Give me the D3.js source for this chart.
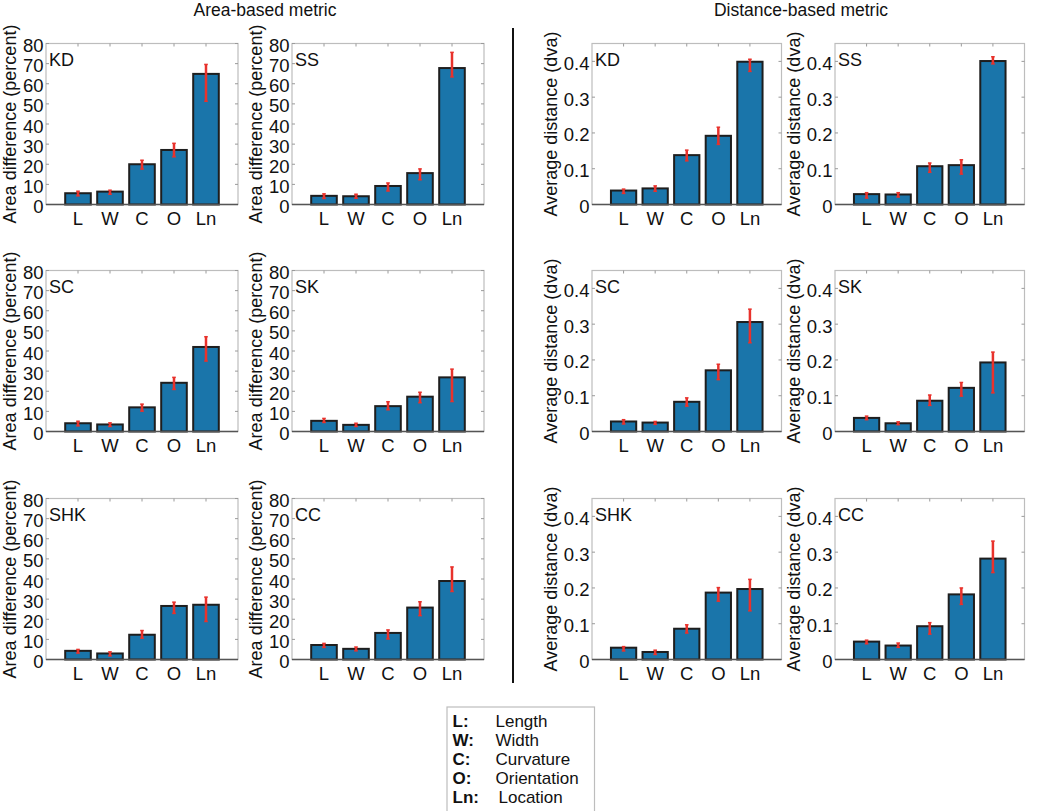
<!DOCTYPE html>
<html>
<head>
<meta charset="utf-8">
<script src="https://cdn.jsdelivr.net/npm/d3@7"></script>
<style>
  body { margin: 0; background: #fff; }
  svg { display: block; font-family: "Liberation Sans", Arial, Helvetica, sans-serif; }
</style>
</head>
<body>
<div id="chart"></div>
<script>
// Categories and methods
const categories = ['L', 'W', 'C', 'O', 'Ln'];
const methods = ['KD', 'SS', 'SC', 'SK', 'SHK', 'CC'];

// Area-based metric (percent): mean, lower and upper error bar ends
const areaMean = [
    [5.6, 6.4, 20.0, 27.1, 64.9],
    [4.3, 4.1, 9.2, 15.6, 67.8],
    [4.1, 3.5, 12.0, 24.2, 42.0],
    [5.3, 3.3, 12.6, 17.3, 26.9],
    [4.3, 3.0, 12.3, 26.6, 27.2],
    [7.2, 5.3, 13.2, 25.8, 39.0]
];
const areaLow = [
    [4.3, 5.1, 17.6, 23.7, 51.3],
    [3.0, 3.1, 6.7, 12.3, 63.4],
    [2.8, 2.5, 10.1, 20.9, 35.0],
    [4.5, 2.5, 10.8, 14.3, 14.9],
    [3.2, 1.8, 10.6, 22.9, 18.9],
    [6.0, 4.3, 10.2, 21.8, 33.8]
];
const areaHigh = [
    [6.6, 7.1, 22.0, 30.4, 69.6],
    [5.3, 5.1, 10.7, 17.7, 75.6],
    [5.1, 4.3, 13.6, 26.9, 47.1],
    [6.5, 4.1, 14.8, 19.5, 31.0],
    [5.0, 3.8, 14.4, 28.5, 31.0],
    [8.0, 6.2, 14.7, 28.7, 46.0]
];

// Distance-based metric (dva)
const distMean = [
    [0.039, 0.045, 0.138, 0.192, 0.399],
    [0.029, 0.028, 0.107, 0.110, 0.401],
    [0.028, 0.025, 0.083, 0.171, 0.306],
    [0.038, 0.023, 0.086, 0.122, 0.193],
    [0.033, 0.021, 0.086, 0.187, 0.197],
    [0.050, 0.039, 0.093, 0.182, 0.282]
];
const distLow = [
    [0.031, 0.037, 0.122, 0.168, 0.372],
    [0.018, 0.021, 0.090, 0.085, 0.393],
    [0.021, 0.020, 0.071, 0.145, 0.248],
    [0.033, 0.019, 0.073, 0.099, 0.108],
    [0.024, 0.014, 0.074, 0.163, 0.136],
    [0.044, 0.034, 0.071, 0.154, 0.243]
];
const distHigh = [
    [0.043, 0.052, 0.152, 0.216, 0.406],
    [0.033, 0.033, 0.116, 0.125, 0.413],
    [0.033, 0.028, 0.094, 0.188, 0.342],
    [0.043, 0.027, 0.102, 0.137, 0.222],
    [0.036, 0.026, 0.097, 0.201, 0.224],
    [0.054, 0.046, 0.103, 0.200, 0.331]
];

const areaTicks = [0, 10, 20, 30, 40, 50, 60, 70, 80];
const distTicks = [0, 0.1, 0.2, 0.3, 0.4];

const legendKeys = ['L:', 'W:', 'C:', 'O:', 'Ln:'];
const legendNames = ['Length', 'Width', 'Curvature', 'Orientation', 'Location'];

// Styling
const barColor = '#1a75aa';
const errColor = '#e8322c';

const width = 1050;
const height = 811;

const svg = d3.select('#chart')
    .append('svg')
    .attr('width', width)
    .attr('height', height);

// Panel grid
const rowTop = [43.5, 270.5, 498.5];
const panelH = 161;

function drawPanel(x0, y0, w, method, mean, low, high, yMax, ticks, yLabel, fmt) {
    const g = svg.append('g').attr('transform', `translate(${x0},${y0})`);

    const x = d3.scaleLinear().domain([0, 6]).range([0, w]);
    const y = d3.scaleLinear().domain([0, yMax]).range([panelH, 0]);

    // box (light gray)
    g.append('rect')
        .attr('width', w)
        .attr('height', panelH)
        .attr('fill', 'none')
        .attr('stroke', '#bdbdbd')
        .attr('stroke-width', 1.2);

    // inner ticks on left and right edges
    ticks.forEach(t => {
        g.append('line').attr('x1', 0).attr('x2', 3).attr('y1', y(t)).attr('y2', y(t))
            .attr('stroke', '#9a9a9a');
        g.append('line').attr('x1', w).attr('x2', w - 3).attr('y1', y(t)).attr('y2', y(t))
            .attr('stroke', '#9a9a9a');
    });
    // top ticks at bar centers
    categories.forEach((c, i) => {
        g.append('line').attr('x1', x(i + 1)).attr('x2', x(i + 1)).attr('y1', 0).attr('y2', 3)
            .attr('stroke', '#9a9a9a');
    });

    // bars
    g.selectAll('.bar')
        .data(mean)
        .enter()
        .append('rect')
        .attr('class', 'bar')
        .attr('x', (d, i) => x(i + 1 - 0.4))
        .attr('width', x(0.8) - x(0))
        .attr('y', d => y(d))
        .attr('height', d => y(0) - y(d))
        .attr('fill', barColor)
        .attr('stroke', '#1e1e1e')
        .attr('stroke-width', 2);

    // error bars
    const capW = 1.8;
    mean.forEach((d, i) => {
        const cx = x(i + 1);
        g.append('line')
            .attr('x1', cx).attr('x2', cx)
            .attr('y1', y(low[i])).attr('y2', y(high[i]))
            .attr('stroke', errColor).attr('stroke-width', 2.5);
        [low[i], high[i]].forEach(v => {
            g.append('line')
                .attr('x1', cx - capW).attr('x2', cx + capW)
                .attr('y1', y(v)).attr('y2', y(v))
                .attr('stroke', errColor).attr('stroke-width', 1.5);
        });
    });

    // bottom axis line (darker)
    g.append('line')
        .attr('x1', 0).attr('x2', w)
        .attr('y1', panelH).attr('y2', panelH)
        .attr('stroke', '#555')
        .attr('stroke-width', 1.6);

    // y tick labels
    g.selectAll('.ytick')
        .data(ticks)
        .enter()
        .append('text')
        .attr('x', -2.5)
        .attr('y', d => y(d) + 2)
        .attr('text-anchor', 'end')
        .attr('dominant-baseline', 'central')
        .style('font-size', '18.5px')
        .style('fill', '#111')
        .text(fmt);

    // x tick labels
    g.selectAll('.xtick')
        .data(categories)
        .enter()
        .append('text')
        .attr('x', (d, i) => x(i + 1))
        .attr('y', panelH + 13.5)
        .attr('text-anchor', 'middle')
        .attr('dominant-baseline', 'central')
        .style('font-size', '18.5px')
        .style('fill', '#111')
        .text(d => d);

    // y axis label
    g.append('text')
        .attr('transform', `translate(${yLabel.dx},${panelH / 2}) rotate(-90)`)
        .attr('text-anchor', 'middle')
        .attr('dominant-baseline', 'central')
        .style('font-size', '18px')
        .style('fill', '#111')
        .text(yLabel.text);

    // method label
    g.append('text')
        .attr('x', 3)
        .attr('y', 22)
        .style('font-size', '18px')
        .style('fill', '#111')
        .text(method);
}

// Area-based panels on the left, distance-based on the right
const areaCols = [46, 292];
const distCols = [592, 835];

methods.forEach((m, k) => {
    const row = Math.floor(k / 2);
    const col = k % 2;
    drawPanel(areaCols[col], rowTop[row], 192, m,
        areaMean[k], areaLow[k], areaHigh[k], 80, areaTicks,
        { text: 'Area difference (percent)', dx: -36 }, d => d);
    drawPanel(distCols[col], rowTop[row], 189.5, m,
        distMean[k], distLow[k], distHigh[k], 0.45, distTicks,
        { text: 'Average distance (dva)', dx: -41 }, d => d === 0 ? '0' : d.toFixed(1));
});

// Column titles
svg.append('text')
    .attr('x', 265).attr('y', 16)
    .attr('text-anchor', 'middle')
    .style('font-size', '17.5px')
    .style('fill', '#111')
    .text('Area-based metric');

svg.append('text')
    .attr('x', 801).attr('y', 16)
    .attr('text-anchor', 'middle')
    .style('font-size', '17.5px')
    .style('fill', '#111')
    .text('Distance-based metric');

// Divider
svg.append('line')
    .attr('x1', 513).attr('x2', 513)
    .attr('y1', 28).attr('y2', 683)
    .attr('stroke', '#111')
    .attr('stroke-width', 2);

// Legend
const legend = svg.append('g').attr('transform', 'translate(447,707)');
legend.append('rect')
    .attr('width', 147.5)
    .attr('height', 106)
    .attr('fill', 'none')
    .attr('stroke', '#bdbdbd')
    .attr('stroke-width', 1.2);

legendKeys.forEach((k, i) => {
    legend.append('text')
        .attr('x', 5.5)
        .attr('y', 19.5 + i * 19)
        .style('font-size', '17px')
        .style('font-weight', 'bold')
        .style('fill', '#111')
        .text(k);
    legend.append('text')
        .attr('x', i === 4 ? 51.5 : 48.5)
        .attr('y', 19.5 + i * 19)
        .style('font-size', '17px')
        .style('fill', '#111')
        .text(legendNames[i]);
});
</script>
</body>
</html>
